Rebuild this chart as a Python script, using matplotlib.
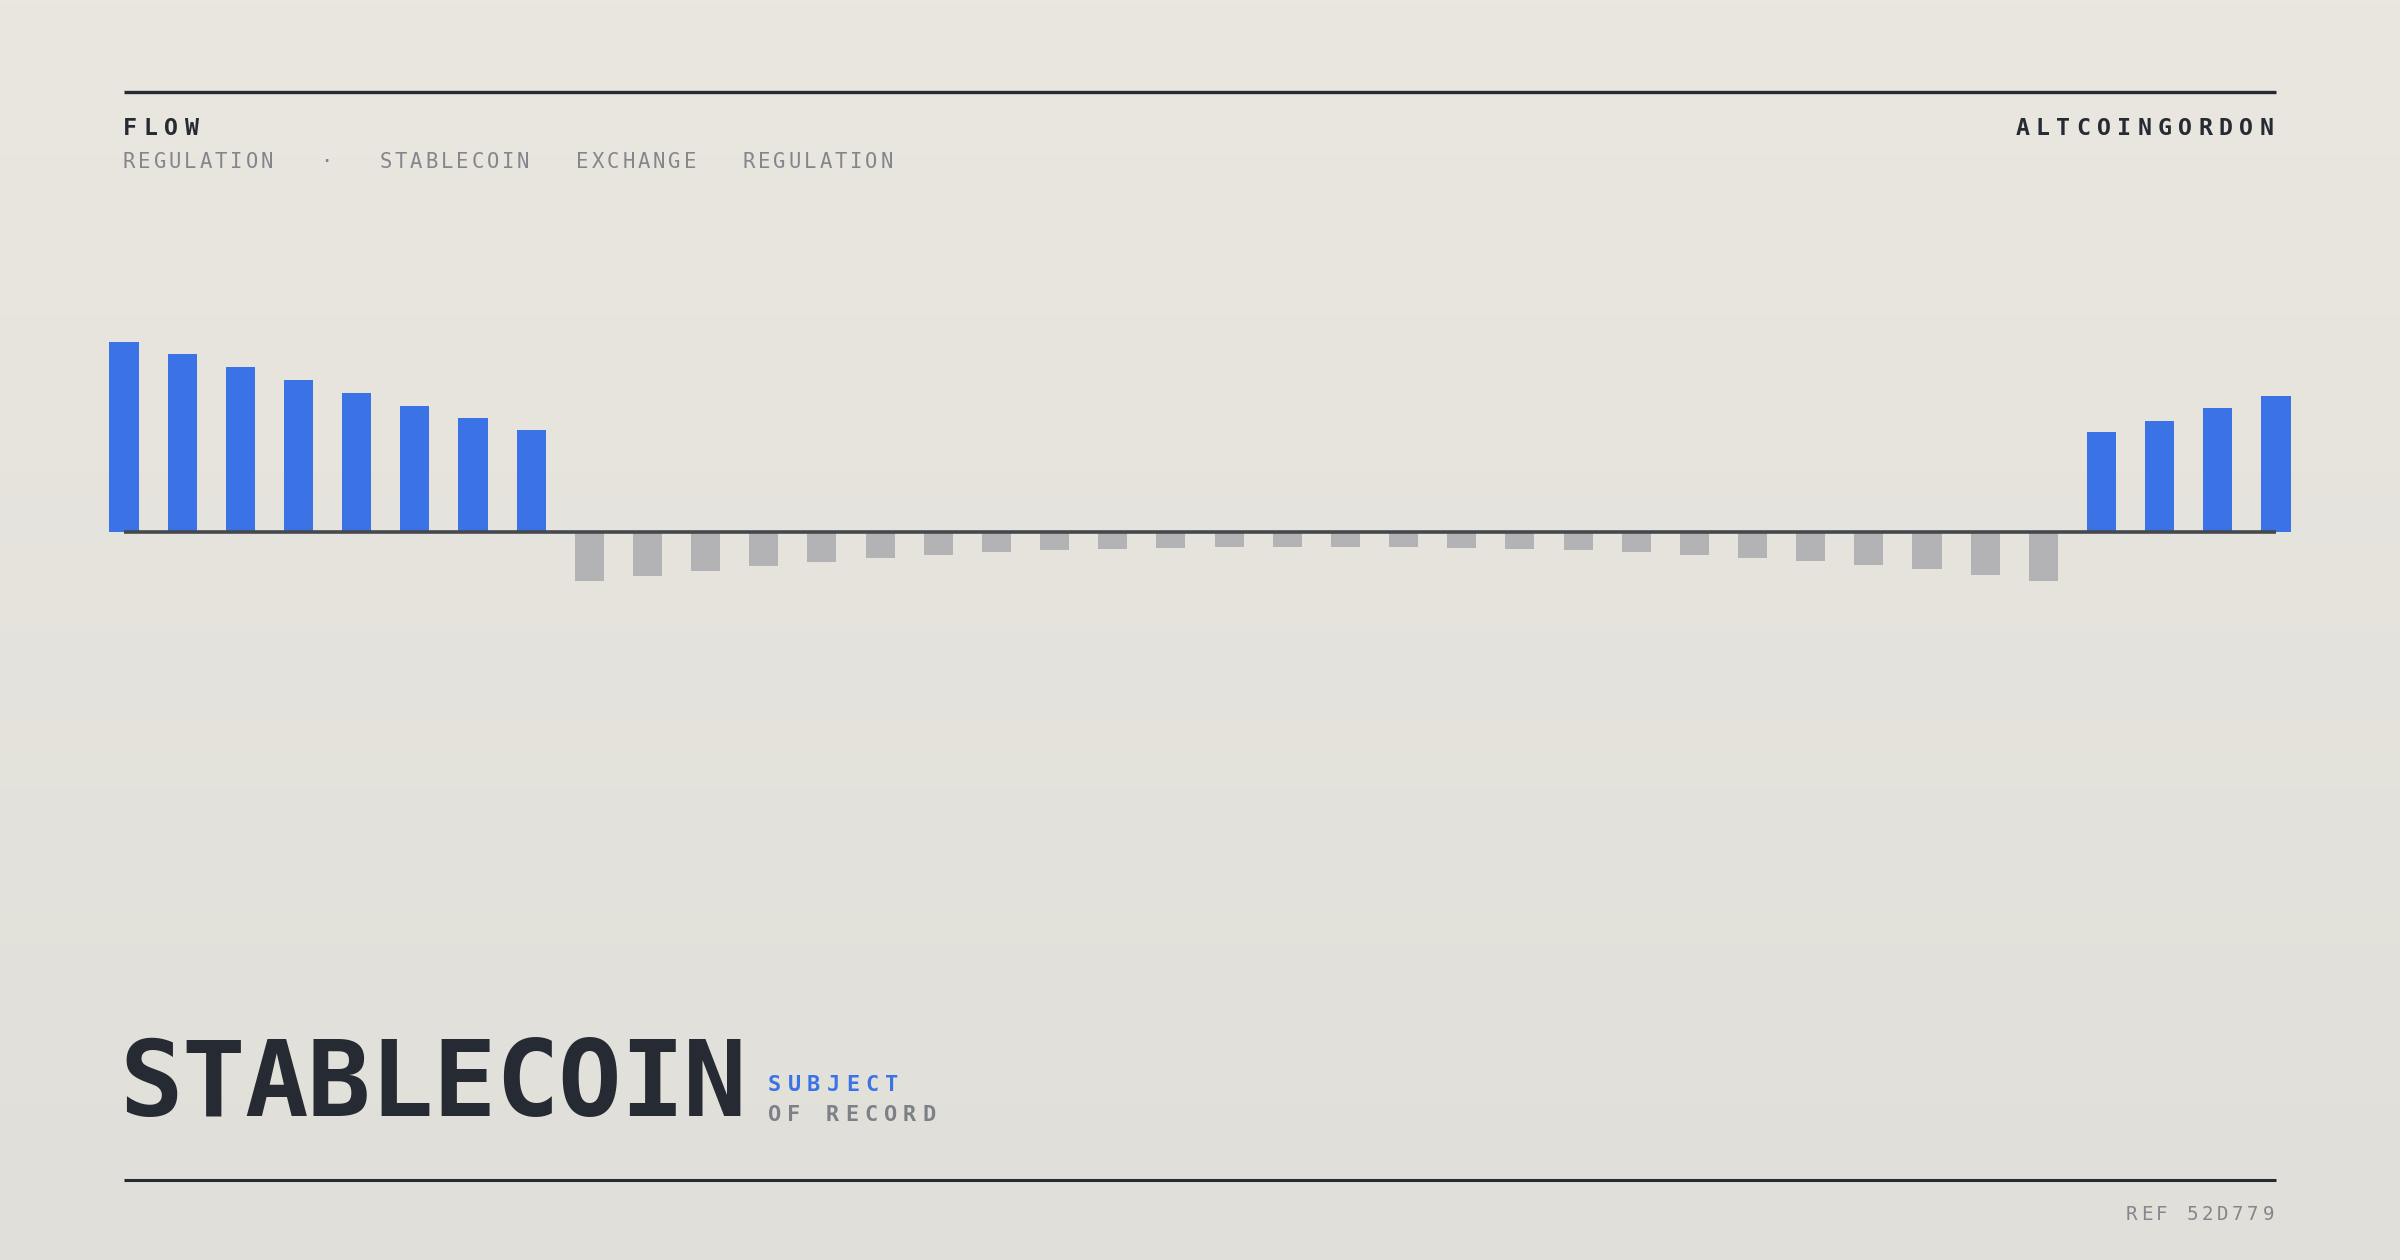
import numpy as np
import matplotlib.pyplot as plt

W, H, DPI = 2400, 1260, 200

# flow values (positive = inflow, negative = outflow)
flow_head = [190, 178, 165, 152, 139, 126, 114, 102]
flow_mid = [-49, -44, -39, -34, -30, -26, -23, -20, -18, -17, -16, -15, -15,
            -15, -15, -16, -16.5, -18, -20, -23, -26, -29, -33, -37, -43, -49]
flow_tail = [100, 111, 124, 136]
flows = np.array(flow_head + flow_mid + flow_tail, dtype=float)

subtitle_parts = ["REGULATION", "\u00b7", "STABLECOIN", "EXCHANGE", "REGULATION"]
title = "STABLECOIN"
tag_top = "SUBJECT"
tag_bottom = "OF RECORD"
kicker = "FLOW"
brand = "ALTCOINGORDON"
ref = "REF 52D779"

BLUE = "#3b73e6"
GREY_BAR = "#b3b3b6"
INK = "#262a33"
MUTED = "#85868c"
MONO = "DejaVu Sans Mono"

fig = plt.figure(figsize=(W / DPI, H / DPI), dpi=DPI)

# background gradient
bg = fig.add_axes([0, 0, 1, 1], zorder=-10)
top = np.array([234, 231, 224]) / 255
bot = np.array([224, 223, 217]) / 255
t = np.linspace(0, 1, 256)[:, None]
grad = (top * (1 - t) + bot * t)[:, None, :]
bg.imshow(grad, aspect="auto", extent=[0, 1, 0, 1])
bg.axis("off")


def pt_from_cap(cap):
    # DejaVu Sans Mono cap height is ~0.729 em
    return cap / 0.729 * 72 / DPI


def spaced(x, y, s, cap, pitch, color, weight="normal", right=False):
    """Draw letter-spaced text, x = left (or right) ink edge in px, y = baseline px."""
    gw = 0.69 * cap
    width = gw + (len(s) - 1) * pitch
    x0 = x - width if right else x
    for i, ch in enumerate(s):
        cx = x0 + gw / 2 + i * pitch
        fig.text(cx / W, 1 - y / H, ch, ha="center", va="baseline",
                 fontsize=pt_from_cap(cap), family=MONO, weight=weight,
                 color=color)
    return x0 + width


# rules
L, R = 124, 2276
for yy, lw in [(92, 1.2), (1180, 1.1)]:
    fig.add_artist(plt.Line2D([L / W, R / W], [1 - yy / H, 1 - yy / H],
                              color=INK, lw=lw, solid_capstyle="butt"))

# header
spaced(L, 135, kicker, 17, 20.8, INK, weight="bold")
spaced(R - 4, 135, brand, 17, 20.3, INK, weight="bold", right=True)
x = L
for part in subtitle_parts:
    x = spaced(x, 168, part, 15, 15.3, MUTED) + 49

# chart
ax = fig.add_axes([0, 0, 1, 1], zorder=1)
ax.set_facecolor("none")
idx = np.arange(len(flows))
scale = (R - L) / (len(flows) - 1)
xmin = -L / scale
ax.set_xlim(xmin, xmin + W / scale)
base = 532
ax.set_ylim(-(H - base), base)
colors = [BLUE if v > 0 else GREY_BAR for v in flows]
ax.bar(idx, flows, width=0.5, color=colors, zorder=2)
ax.hlines(0, idx[0], idx[-1], color="#45484d", lw=1.3, zorder=3)
ax.axis("off")

# title block
for i, ch in enumerate(title):
    fig.text((151 + i * 62.6) / W, 1 - 1116 / H, ch, ha="center", va="baseline",
             fontsize=pt_from_cap(77), family=MONO, weight="bold", color=INK)
spaced(769, 1091, tag_top, 16, 19.5, BLUE, weight="bold")
spaced(769, 1121, tag_bottom, 16, 19.3, "#7e8088", weight="bold")

# footer
spaced(R - 3, 1220, ref, 14, 15.2, MUTED, right=True)

fig.savefig("out.png", dpi=DPI)
